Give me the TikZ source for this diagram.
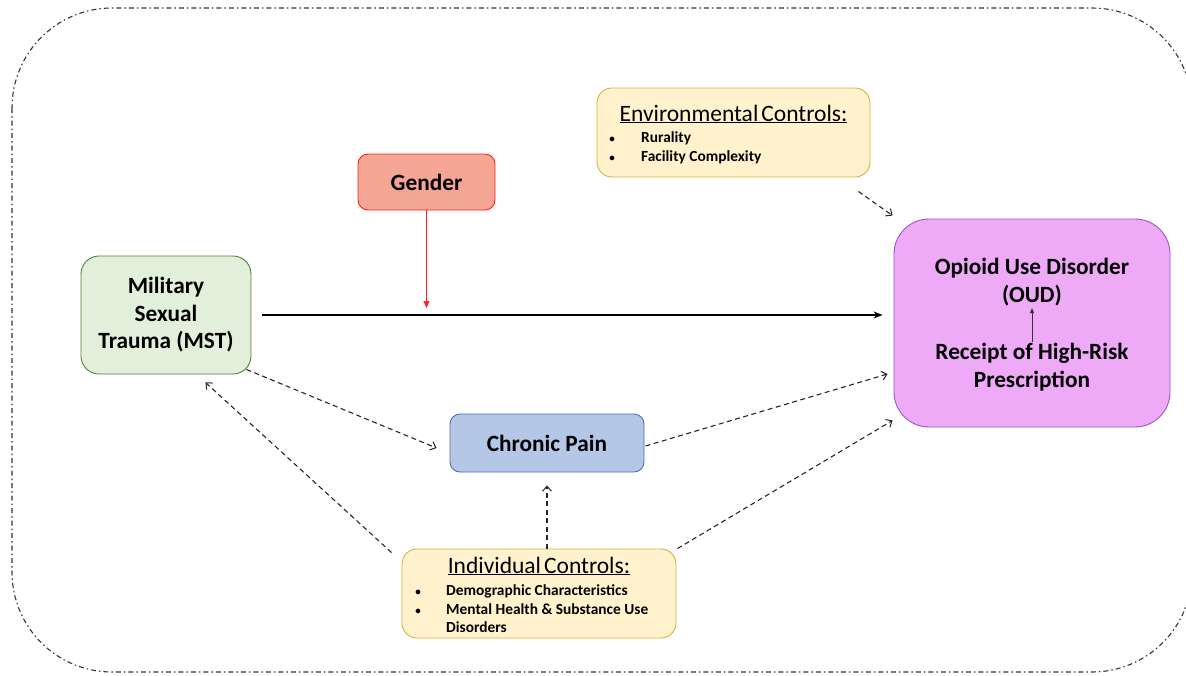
\documentclass[tikz,border=0pt]{standalone}
\usepackage{fontspec}
\setmainfont{Carlito}
\usetikzlibrary{arrows.meta,calc}
\definecolor{mstfill}{HTML}{E2EFDA}
\definecolor{mstdraw}{HTML}{548235}
\definecolor{genfill}{HTML}{F4A594}
\definecolor{gendraw}{HTML}{FF2020}
\definecolor{ctlfill}{HTML}{FFF2CC}
\definecolor{ctldraw}{HTML}{D6B040}
\definecolor{oudfill}{HTML}{EEAAF6}
\definecolor{ouddraw}{HTML}{9E57C2}
\definecolor{cpfill}{HTML}{B4C7E7}
\definecolor{cpdraw}{HTML}{4F6FAF}
\definecolor{dashcol}{HTML}{262626}
\begin{document}
\begin{tikzpicture}[x=1pt,y=-1pt,
  boxstyle/.style={rectangle,line width=0.9pt,inner sep=0pt,align=center,
     font=\fontsize{23.3}{27.5}\selectfont\bfseries},
  titlestyle/.style={inner sep=0pt,font=\fontsize{23.5}{26}\selectfont},
  itemstyle/.style={inner sep=0pt,anchor=base west,font=\fontsize{15.4}{18}\selectfont\bfseries},
  bulletstyle/.style={inner sep=0pt,anchor=base,font=\fontsize{11}{18}\selectfont\bfseries},
  dasharrow/.style={draw=dashcol,line width=1.1pt,dash pattern=on 5pt off 3.5pt,
     -{Straight Barb[length=5pt,width=9pt,line width=1pt]}},
  mainarrow/.style={draw=black,line width=1.4pt,-{Stealth[length=9pt,width=7pt]}},
  genarrow/.style={draw=gendraw,line width=0.7pt,-{Triangle[length=7pt,width=6pt]}},
  framestyle/.style={draw=black!80,line width=1.1pt,dash pattern=on 5pt off 3pt on 1.5pt off 3pt}
]
\useasboundingbox (0,0) rectangle (1186,675);
\draw[framestyle,rounded corners=100pt] (12,8) rectangle (1192,672);

\node[boxstyle,fill=mstfill,draw=mstdraw,rounded corners=18pt,minimum width=170pt,minimum height=118pt]
  (mst) at (166,315) {Military\\Sexual\\Trauma (MST)};
\node[boxstyle,fill=genfill,draw=gendraw,rounded corners=10pt,minimum width=137pt,minimum height=56pt]
  (gender) at (426.5,182) {Gender};
\node[boxstyle,fill=ctlfill,draw=ctldraw,rounded corners=15pt,minimum width=273pt,minimum height=89pt]
  (env) at (733.5,132.5) {};
\node[boxstyle,fill=oudfill,draw=ouddraw,rounded corners=35pt,minimum width=276pt,minimum height=208pt]
  (oud) at (1032,323) {};
\node[boxstyle,fill=cpfill,draw=cpdraw,rounded corners=10pt,minimum width=194pt,minimum height=58pt]
  (chronic) at (547,443) {Chronic Pain};
\node[boxstyle,fill=ctlfill,draw=ctldraw,rounded corners=15pt,minimum width=274pt,minimum height=89pt]
  (indiv) at (539,593.5) {};

% environmental controls text
\node[titlestyle] (envtitle) at (733.5,114) {\underline{Environmental\hspace{3pt}Controls:}};
\node[bulletstyle] (envb1) at (612,142) {•};
\node[itemstyle] (envi1) at (641,142) {Rurality};
\node[bulletstyle] (envb2) at (612,161) {•};
\node[itemstyle] (envi2) at (641,161) {Facility Complexity};

% individual controls text
\node[titlestyle] (indtitle) at (539,566) {\underline{Individual\hspace{3pt}Controls:}};
\node[bulletstyle] (indb1) at (418,595) {•};
\node[itemstyle] (indi1) at (446,595) {Demographic Characteristics};
\node[bulletstyle] (indb2) at (418,614) {•};
\node[itemstyle] (indi2) at (446,614) {Mental Health \& Substance Use};
\node[itemstyle] (indi3) at (446,632) {Disorders};

% OUD text
\node[boxstyle] (oudt1) at (1032,282) {Opioid Use Disorder\\(OUD)};
\node[boxstyle] (oudt2) at (1032,367) {Receipt of High-Risk\\Prescription};
\draw[draw=black!80,line width=0.6pt,-{Triangle[length=5pt,width=4pt]}]
  ($(oudt2.north)+(0,-1)$) -- ($(oudt1.south)+(0,2)$);

% connectors
\draw[mainarrow,shorten <=11pt,shorten >=11pt] (mst.east) -- (mst.east -| oud.west);
\draw[genarrow,shorten >=7pt] (gender.south) -- (gender.south |- mst.east);
\draw[dasharrow] ($(env.south east)+(-12,14)$) -- ($(oud.north west)+(-1,-3)$);
\draw[dasharrow] ($(mst.south east)+(-5,-5)$) -- ($(chronic.west)+(-13,5)$);
\draw[dasharrow] ($(indiv.north west)+(-10,4)$) -- ($(mst.south east)+(-46,8)$);
\draw[dasharrow] (indiv.north -| chronic.south) -- ($(chronic.south)+(0,13)$);
\draw[dasharrow] ($(chronic.east)+(1,3)$) -- ($(oud.west)+(-6,51)$);
\draw[dasharrow] ($(indiv.north east)+(1,0)$) -- ($(oud.south west)+(-1,-7)$);
\end{tikzpicture}
\end{document}
